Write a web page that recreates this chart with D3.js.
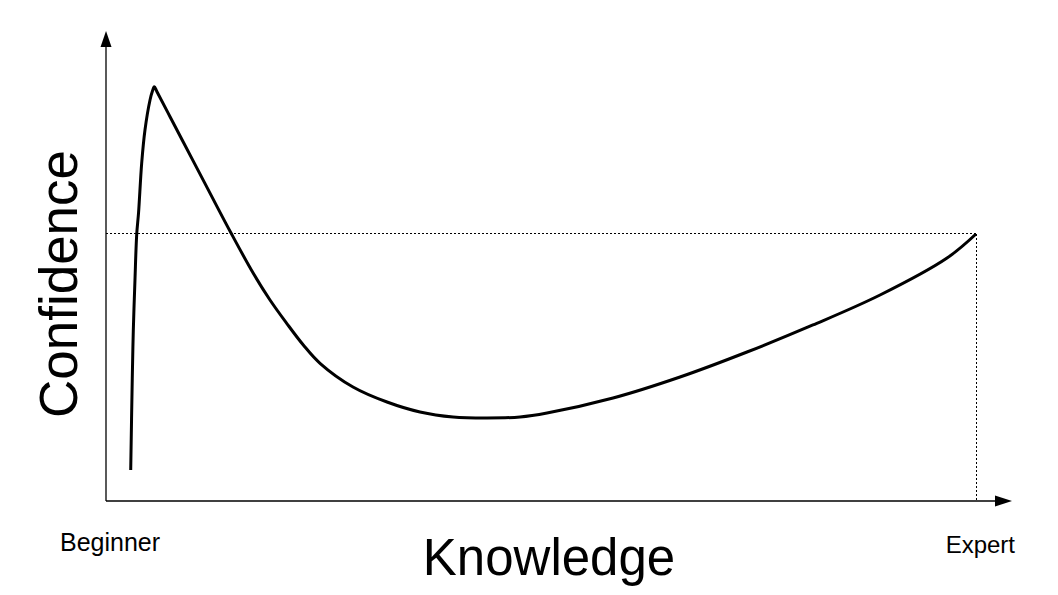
<!DOCTYPE html>
<html>
<head>
<meta charset="utf-8">
<script src="https://cdn.jsdelivr.net/npm/d3@7"></script>
<style>
  body { margin: 0; background: #fff; }
  text { font-family: "Liberation Sans", Arial, sans-serif; fill: #000; }
</style>
</head>
<body>
<div id="chart"></div>
<script>
// knowledge (0 = beginner, 100 = expert) and confidence
var knowledge = [2.84, 3.02, 3.14, 3.33, 3.53, 3.74, 4.10, 4.48, 5.06, 5.34, 5.55,
  5.86, 7.36, 10.00, 12.18, 14.45, 16.93, 18.85, 20.77, 22.68, 24.60, 28.39,
  32.30, 36.09, 39.89, 43.79, 47.59, 50.69, 58.28, 65.98, 73.68, 81.26, 88.97, 96.67, 100];
var confidence = [6.60, 26.11, 36.38, 47.02, 56.74, 61.28, 71.85, 78.94, 85.32, 87.23, 88.15,
  87.06, 81.77, 72.43, 64.70, 56.74, 48.45, 42.77, 37.81, 33.19, 29.30, 24.26,
  21.06, 18.94, 17.87, 17.66, 17.87, 18.72, 21.91, 26.38, 31.70, 37.45, 43.83, 51.70, 56.81];
var endLabels = ["Beginner", "Expert"];
var xTitle = "Knowledge";
var yTitle = "Confidence";

var width = 1058, height = 595;

var data = knowledge.map(function (k, i) { return { k: k, c: confidence[i] }; });
var expert = data[data.length - 1];

var svg = d3.select("#chart")
  .append("svg")
  .attr("width", width)
  .attr("height", height);

var x = d3.scaleLinear().domain([0, 100]).range([106, 976]);
var y = d3.scaleLinear().domain([0, 100]).range([501, 31]);

// axes with arrow heads
svg.append("line")
  .attr("x1", x(0)).attr("y1", y(0))
  .attr("x2", x(0)).attr("y2", y(0) - 455)
  .attr("stroke", "#000").attr("stroke-width", 1.3);
svg.append("line")
  .attr("x1", x(0)).attr("y1", y(0))
  .attr("x2", 998).attr("y2", y(0))
  .attr("stroke", "#000").attr("stroke-width", 1.3);
svg.append("path")
  .attr("d", "M" + x(0) + "," + 31 + "L" + (x(0) - 5.5) + ",47L" + (x(0) + 5.5) + ",47Z")
  .attr("fill", "#000");
svg.append("path")
  .attr("d", "M1012," + y(0) + "L995," + (y(0) - 5.5) + "L995," + (y(0) + 5.5) + "Z")
  .attr("fill", "#000");

// dotted guides to the expert point
svg.append("line")
  .attr("x1", x(0)).attr("y1", y(expert.c))
  .attr("x2", x(expert.k)).attr("y2", y(expert.c))
  .attr("stroke", "#000").attr("stroke-width", 1)
  .attr("shape-rendering", "crispEdges")
  .attr("stroke-dasharray", "2,2");
svg.append("line")
  .attr("x1", x(expert.k)).attr("y1", y(expert.c))
  .attr("x2", x(expert.k)).attr("y2", y(0))
  .attr("stroke", "#000").attr("stroke-width", 1)
  .attr("shape-rendering", "crispEdges")
  .attr("stroke-dasharray", "2,2");

// the curve
var line = d3.line()
  .x(function (d) { return x(d.k); })
  .y(function (d) { return y(d.c); })
  .curve(d3.curveCatmullRom.alpha(0.5));

svg.append("path")
  .datum(data)
  .attr("d", line)
  .attr("fill", "none")
  .attr("stroke", "#000")
  .attr("stroke-width", 3)
  .attr("stroke-linejoin", "round");

// labels
svg.append("text")
  .attr("x", 60).attr("y", 551)
  .style("font-size", "25px")
  .text(endLabels[0]);
svg.append("text")
  .attr("x", 1015).attr("y", 553)
  .attr("text-anchor", "end")
  .style("font-size", "24px")
  .text(endLabels[1]);
svg.append("text")
  .attr("x", 549).attr("y", 575)
  .attr("text-anchor", "middle")
  .style("font-size", "51px")
  .text(xTitle);
svg.append("text")
  .attr("transform", "translate(77,284)rotate(-90)")
  .attr("text-anchor", "middle")
  .style("font-size", "53px")
  .text(yTitle);
</script>
</body>
</html>
